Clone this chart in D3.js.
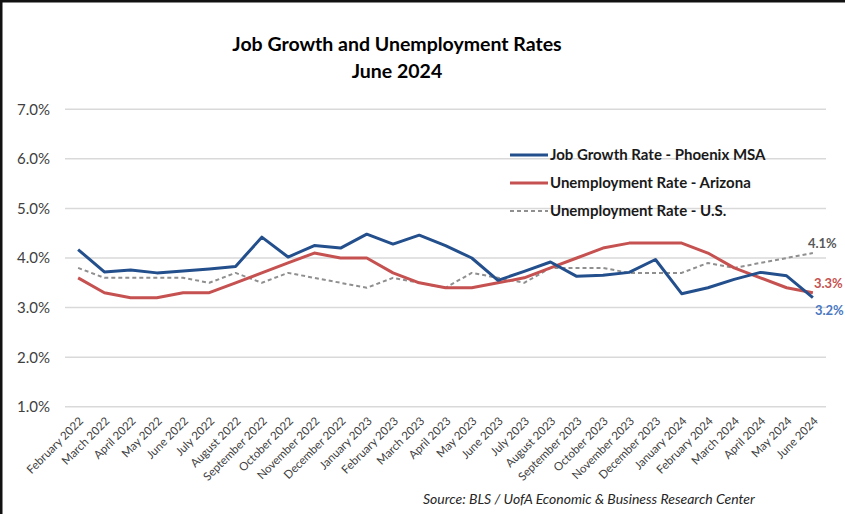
<!DOCTYPE html>
<html>
<head>
<meta charset="utf-8">
<script src="https://cdn.jsdelivr.net/npm/d3@7"></script>
<style>
  html, body { margin: 0; padding: 0; background: #fff; }
  svg { display: block; }
  text { font-family: Lato, "Open Sans", sans-serif; }
</style>
</head>
<body>
<svg id="chart" width="845" height="514"></svg>
<script>
// Months on the category axis
const months = [
  "February 2022", "March 2022", "April 2022", "May 2022", "June 2022", "July 2022",
  "August 2022", "September 2022", "October 2022", "November 2022", "December 2022",
  "January 2023", "February 2023", "March 2023", "April 2023", "May 2023", "June 2023",
  "July 2023", "August 2023", "September 2023", "October 2023", "November 2023",
  "December 2023", "January 2024", "February 2024", "March 2024", "April 2024",
  "May 2024", "June 2024"
];

// Rates in percent
const jobGrowthPhoenix = [
  4.17, 3.72, 3.76, 3.70, 3.74, 3.78, 3.83, 4.42, 4.02, 4.25, 4.20, 4.48, 4.28, 4.46,
  4.25, 4.00, 3.55, 3.73, 3.92, 3.63, 3.65, 3.71, 3.97, 3.28, 3.40, 3.57, 3.71, 3.64, 3.2
];
const unemploymentArizona = [
  3.6, 3.3, 3.2, 3.2, 3.3, 3.3, 3.5, 3.7, 3.9, 4.1, 4.0, 4.0, 3.7, 3.5,
  3.4, 3.4, 3.5, 3.6, 3.8, 4.0, 4.2, 4.3, 4.3, 4.3, 4.1, 3.8, 3.6, 3.4, 3.3
];
const unemploymentUS = [
  3.8, 3.6, 3.6, 3.6, 3.6, 3.5, 3.7, 3.5, 3.7, 3.6, 3.5, 3.4, 3.6, 3.5,
  3.4, 3.7, 3.6, 3.5, 3.8, 3.8, 3.8, 3.7, 3.7, 3.7, 3.9, 3.8, 3.9, 4.0, 4.1
];

const yTicks = [1, 2, 3, 4, 5, 6, 7];

const series = [
  { name: "Job Growth Rate - Phoenix MSA", values: jobGrowthPhoenix, color: "#234F8C", width: 3, dash: null, labelColor: "#4A78C2", labelDy: 17, labelDx: 2 },
  { name: "Unemployment Rate - Arizona", values: unemploymentArizona, color: "#C55250", width: 3, dash: null, labelColor: "#C55250", labelDy: -5, labelDx: 1 },
  { name: "Unemployment Rate - U.S.", values: unemploymentUS, color: "#8F8F8F", width: 2, dash: "4,3", labelColor: "#595959", labelDy: -5, labelDx: -5 }
];

const svg = d3.select("#chart");

// frame edges
svg.append("rect").attr("x", 0).attr("y", 0).attr("width", 845).attr("height", 2.5).attr("fill", "#111");
svg.append("rect").attr("x", 0).attr("y", 0).attr("width", 2.5).attr("height", 514).attr("fill", "#111");

const x = d3.scaleBand().domain(months).range([65, 826]);
const y = d3.scaleLinear().domain([1, 7]).range([406.8, 109.2]);
const cx = m => x(m) + x.bandwidth() / 2;

// title
svg.append("text").attr("x", 397).attr("y", 51).attr("text-anchor", "middle")
  .attr("font-size", 19.5).attr("font-weight", "bold").attr("fill", "#000")
  .text("Job Growth and Unemployment Rates");
svg.append("text").attr("x", 397).attr("y", 78).attr("text-anchor", "middle")
  .attr("font-size", 19.5).attr("font-weight", "bold").attr("fill", "#000")
  .text("June 2024");

// gridlines
svg.append("g").selectAll("line").data(yTicks).join("line")
  .attr("x1", 65).attr("x2", 826)
  .attr("y1", d => y(d)).attr("y2", d => y(d))
  .attr("stroke", "#D9D9D9").attr("stroke-width", 1.5);

// y axis labels
const yAxis = d3.axisLeft(y).tickValues(yTicks).tickSize(0).tickPadding(0)
  .tickFormat(d => d3.format(".1f")(d) + "%");
const gy = svg.append("g").attr("transform", "translate(50,0)").call(yAxis);
gy.select(".domain").remove();
gy.selectAll("text").attr("font-size", 15).attr("fill", "#404040")
  .attr("font-family", "Lato, sans-serif");

// x axis labels
const xAxis = d3.axisBottom(x).tickSize(0).tickPadding(0);
const gx = svg.append("g").attr("transform", "translate(0,419)").call(xAxis);
gx.select(".domain").remove();
gx.selectAll("text")
  .attr("font-size", 11.5).attr("fill", "#404040").attr("font-family", "Lato, sans-serif")
  .attr("text-anchor", "end").attr("dy", "0.35em").attr("y", 0)
  .attr("transform", "translate(3,0) rotate(-45)");

// lines
const line = d3.line().x((d, i) => cx(months[i])).y(d => y(d));
const gl = svg.append("g");
[series[2], series[1], series[0]].forEach(s => {
  gl.append("path").datum(s.values)
    .attr("fill", "none").attr("stroke", s.color).attr("stroke-width", s.width)
    .attr("stroke-dasharray", s.dash).attr("stroke-linejoin", "round")
    .attr("d", line);
});

// end value labels
const lastM = months[months.length - 1];
series.forEach(s => {
  const v = s.values[s.values.length - 1];
  svg.append("text")
    .attr("x", cx(lastM) + s.labelDx)
    .attr("y", y(v) + s.labelDy)
    .attr("font-size", 13).attr("font-weight", "bold").attr("fill", s.labelColor)
    .text(d3.format(".1f")(v) + "%");
});

// legend
const lg = svg.append("g").attr("transform", "translate(510,155)");
series.forEach((s, i) => {
  const row = lg.append("g").attr("transform", `translate(0,${i * 28})`);
  row.append("line").attr("x1", 0).attr("x2", 38).attr("y1", 0).attr("y2", 0)
    .attr("stroke", s.color).attr("stroke-width", s.dash ? 2 : 3).attr("stroke-dasharray", s.dash);
  row.append("text").attr("x", 40).attr("y", 0).attr("dy", "0.35em")
    .attr("font-size", 15).attr("font-weight", "bold").attr("fill", "#1a1a1a")
    .text(s.name);
});

// source note
svg.append("text").attr("x", 423).attr("y", 504)
  .attr("font-size", 14).attr("font-style", "italic").attr("fill", "#262626")
  .text("Source: BLS / UofA Economic & Business Research Center");
</script>
</body>
</html>
